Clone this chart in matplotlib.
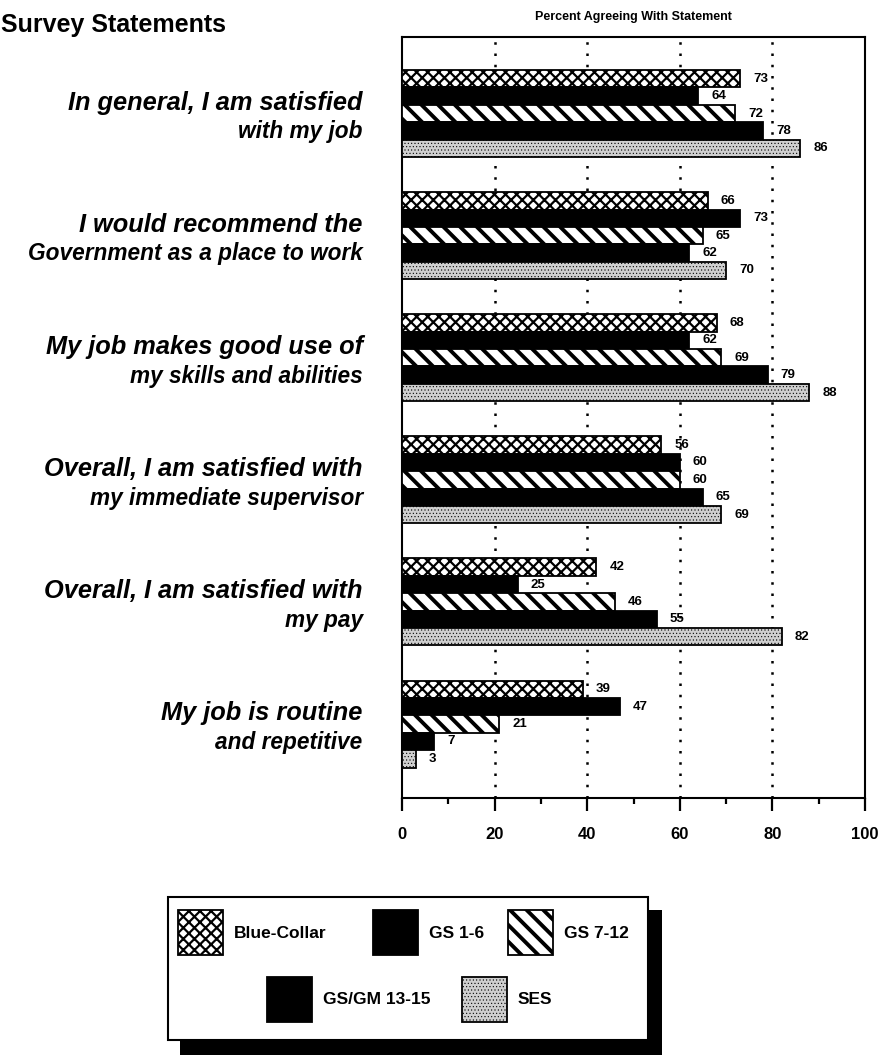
import numpy as np
import matplotlib
matplotlib.use('Agg')
import matplotlib.pyplot as plt
from matplotlib.patches import Rectangle

plt.rcParams['font.family'] = ['Liberation Sans', 'DejaVu Sans']

# data
statements_top = ['In general, I am satisfied', 'I would recommend the', 'My job makes good use of',
                  'Overall, I am satisfied with', 'Overall, I am satisfied with', 'My job is routine']
statements_bot = ['with my job', 'Government as a place to work', 'my skills and abilities',
                  'my immediate supervisor', 'my pay', 'and repetitive']
groups = ['Blue-Collar', 'GS 1-6', 'GS 7-12', 'GS/GM 13-15', 'SES']
blue_collar = [73, 66, 68, 56, 42, 39]
gs_1_6 = [64, 73, 62, 60, 25, 47]
gs_7_12 = [72, 65, 69, 60, 46, 21]
gs_13_15 = [78, 62, 79, 65, 55, 7]
ses = [86, 70, 88, 69, 82, 3]
series = [blue_collar, gs_1_6, gs_7_12, gs_13_15, ses]

# styles per series: facecolor, hatch, hatch linewidth
styles = [('white', 'xxx', 1.6),
          ('black', None, 1.0),
          ('white', '\\\\', 2.8),
          ('black', None, 1.0),
          ('#cfcfcf', '.....', 0.4)]

W, H = 884, 1055
fig = plt.figure(figsize=(W / 100, H / 100), dpi=100)
ax = fig.add_axes([402 / W, 1 - 798 / H, 463 / W, 761 / H])

y = np.arange(len(blue_collar))
bh = 0.1425
for k, vals in enumerate(series):
    fc, hatch, hlw = styles[k]
    pos = y - 2 * bh + k * bh
    with plt.rc_context({'hatch.linewidth': hlw}):
        bars = ax.barh(pos, vals, height=bh, color=fc, edgecolor='black',
                       linewidth=1.3, hatch=hatch, zorder=3)
    for b in bars:
        try:
            b.set_hatch_linewidth(hlw)
        except AttributeError:
            pass
    for p, v in zip(pos, vals):
        ax.text(v + 2.8, p, str(v), ha='left', va='center', fontsize=9.5,
                fontweight='bold', zorder=4)

ax.set_xlim(0, 100)
ax.set_ylim(5.606, -0.627)
ax.set_yticks([])
ax.set_xticks(np.arange(0, 101, 20))
ax.set_xticks(np.arange(10, 100, 20), minor=True)
ax.tick_params(axis='x', which='major', direction='out', length=9, width=1.6,
               pad=12, labelsize=12)
ax.tick_params(axis='x', which='minor', direction='out', length=4, width=1.6)
for lab in ax.get_xticklabels():
    lab.set_fontweight('bold')
for s in ax.spines.values():
    s.set_linewidth(1.5)
for gx in [20, 40, 60, 80]:
    ax.axvline(gx, color='black', linestyle=(0, (1, 3.5)), linewidth=1.8, zorder=1)

# statement labels
for i in range(len(y)):
    ax.text(-0.085, i - 0.09, statements_top[i], transform=ax.get_yaxis_transform(),
            ha='right', va='center', fontsize=18.3, fontweight='bold', style='italic')
    ax.text(-0.085, i + 0.15, statements_bot[i], transform=ax.get_yaxis_transform(),
            ha='right', va='center', fontsize=16.3, fontweight='bold', style='italic')

fig.text(1 / W, 1 - 25 / H, 'Survey Statements', ha='left', va='center',
         fontsize=18, fontweight='bold')
fig.text(633 / W, 1 - 17 / H, 'Percent Agreeing With Statement', ha='center', va='center',
         fontsize=9, fontweight='bold')

# legend box with drop shadow
lg = fig.add_axes([0, 0, 1, 1], zorder=5)
lg.set_xlim(0, W)
lg.set_ylim(H, 0)
lg.axis('off')
lg.add_patch(Rectangle((180, 910), 482, 145, facecolor='black', edgecolor='none'))
lg.add_patch(Rectangle((168, 897), 480, 143, facecolor='white', edgecolor='black', linewidth=1.5))
swatch_x = [178, 373, 508, 267, 462]
swatch_y = [910, 910, 910, 977, 977]
for k, name in enumerate(groups):
    fc, hatch, hlw = styles[k]
    with plt.rc_context({'hatch.linewidth': hlw}):
        r = Rectangle((swatch_x[k], swatch_y[k]), 45, 45, facecolor=fc, edgecolor='black',
                      linewidth=1.3, hatch=hatch)
    try:
        r.set_hatch_linewidth(hlw)
    except AttributeError:
        pass
    lg.add_patch(r)
    lg.text(swatch_x[k] + 56, swatch_y[k] + 23, name, ha='left', va='center',
            fontsize=12.5, fontweight='bold')

fig.savefig('out.png', dpi=100)
